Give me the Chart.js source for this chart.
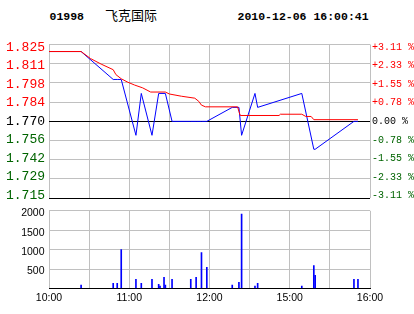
<!DOCTYPE html>
<html><head><meta charset="utf-8">
<script src="https://cdn.jsdelivr.net/npm/chart.js@4.4.0/dist/chart.umd.min.js"></script>
<style>
html,body{margin:0;padding:0;background:#fff;}
#wrap{position:relative;width:414px;height:314px;overflow:hidden;background:#fff;}
.t{position:absolute;white-space:nowrap;color:#000;}
#code,#time{font:bold 11.5px/14px "Liberation Mono",monospace;top:10px;}
#code{left:49.5px}
#time{left:237.5px}
#name{font:13px/16px "Noto Sans CJK SC",sans-serif;left:105px;top:7px;}
#pc{position:absolute;left:0;top:0;}
#vc{position:absolute;left:0;top:200px;}
</style></head><body>
<div id="wrap">
<div class="t" id="code">01998</div>
<div class="t" id="name">飞克国际</div>
<div class="t" id="time">2010-12-06 16:00:41</div>
<canvas id="pc" width="414" height="210"></canvas>
<canvas id="vc" width="414" height="114"></canvas>
</div>
<script>
// ---- data ----
const prevClose = 1.770;
const maxPct = 3.11;
const priceTickLabels = ['1.825','1.811','1.798','1.784','1.770','1.756','1.742','1.729','1.715'];
const pctTickLabels = ['+3.11 %','+2.33 %','+1.55 %','+0.78 %','0.00 %','-0.78 %','-1.55 %','-2.33 %','-3.11 %'];
const timeTickMinutes = [0, 60, 120, 180, 240];
const timeTickLabels = ['10:00','11:00','12:00','15:00','16:00'];

const priceMinutes = [0, 24, 48, 51, 54, 65, 69, 77, 82, 83, 86, 87, 92, 106, 110, 114, 118, 137, 142, 144, 154, 156, 189, 198, 199, 228, 231];
const prices       = [1.82, 1.82, 1.80, 1.80, 1.80, 1.76, 1.79, 1.76, 1.79, 1.79, 1.79, 1.79, 1.77, 1.77, 1.77, 1.77, 1.77, 1.78, 1.78, 1.76, 1.79, 1.78, 1.79, 1.75, 1.75, 1.77, 1.77];

const avgMinutes = [0, 24, 31, 39, 48, 50, 54, 59, 64, 70, 76, 87, 90, 99, 109, 112, 114, 117, 141, 142, 143, 172, 173, 189, 192, 196, 198, 231];
const avgPrices  = [1.820, 1.820, 1.815, 1.811, 1.807, 1.8035, 1.8005, 1.798, 1.796, 1.794, 1.791, 1.791, 1.7896, 1.788, 1.7866, 1.7843, 1.7816, 1.7804, 1.7804, 1.777, 1.7742, 1.7742, 1.7751, 1.7751, 1.7735, 1.7735, 1.7712, 1.7712];

const volMinutes = [24, 48, 51, 54, 65, 69, 77, 82, 83, 86, 87, 92, 106, 110, 114, 118, 137, 142, 144, 154, 156, 189, 198, 199, 228, 231];
const volumes    = [85, 135, 135, 1000, 237, 135, 237, 110, 60, 288, 85, 237, 237, 288, 923, 542, 85, 160, 1914, 60, 135, 60, 593, 339, 237, 237];

// ---- styles ----
const GRID = '#c0c0c0';
const RED = '#ff0000', GREEN = '#006400', BLUE = '#0000ff';

const half = prevClose * maxPct / 100;
const pMin = prevClose - half, pMax = prevClose + half;
const priceTickValues = priceTickLabels.map((_, i) => prevClose + half * (4 - i) / 4);
const stretch = 159 / (159 - 5.6);
const lMin = prevClose - half * stretch, lMax = prevClose + half * stretch;
const gridMinutes = [0, 30, 60, 90, 120, 150, 180, 210, 240];

function tickColor(ctx) {
  const i = ctx.index;
  return i < 4 ? RED : (i === 4 ? '#000' : GREEN);
}
const setTicks = vals => scale => { scale.ticks = vals.map(v => ({ value: v })); };

new Chart(document.getElementById('pc'), {
  type: 'line',
  data: {
    datasets: [
      { data: avgMinutes.map((m, i) => ({ x: m, y: avgPrices[i] })), borderColor: RED, borderWidth: 1, pointRadius: 0, tension: 0, yAxisID: 'y' },
      { data: priceMinutes.map((m, i) => ({ x: m, y: prices[i] })), borderColor: BLUE, borderWidth: 1, pointRadius: 0, tension: 0, yAxisID: 'y' }
    ]
  },
  options: {
    responsive: false, animation: false, events: [],
    layout: { padding: { top: 44.5, bottom: 6.5, left: 0, right: 0 } },
    plugins: { legend: { display: false }, tooltip: { enabled: false } },
    scales: {
      x: {
        type: 'linear', min: 0, max: 240,
        afterBuildTicks: setTicks(gridMinutes),
        ticks: { display: false },
        grid: { color: GRID, drawTicks: false },
        border: { display: false },
        afterFit: s => { s.height = 0; }
      },
      y: {
        position: 'left', min: pMin, max: pMax, weight: 2,
        afterBuildTicks: setTicks(priceTickValues),
        ticks: { display: false },
        grid: {
          drawTicks: false,
          color: c => (Math.abs(c.tick.value - prevClose) < 1e-6 || Math.abs(c.tick.value - pMin) < 1e-6) ? '#000' : GRID
        },
        border: { display: false },
        afterFit: s => { s.width = 0; }
      },
      yl: {
        position: 'left', min: lMin, max: lMax, weight: 1,
        afterBuildTicks: setTicks(priceTickValues),
        ticks: {
          autoSkip: false, padding: 4, color: tickColor,
          font: { family: 'Liberation Mono', size: 13 },
          callback: (v, i) => priceTickLabels[i]
        },
        grid: { display: false, drawTicks: false },
        border: { display: false },
        afterFit: s => { s.width = 49; }
      },
      y2: {
        position: 'right', min: lMin, max: lMax,
        afterBuildTicks: setTicks(priceTickValues),
        ticks: {
          autoSkip: false, padding: 2, color: tickColor,
          font: { family: 'Liberation Mono', size: 10 },
          callback: (v, i) => pctTickLabels[i]
        },
        grid: { display: false, drawTicks: false },
        border: { display: false },
        afterFit: s => { s.width = 44; }
      }
    }
  }
});

new Chart(document.getElementById('vc'), {
  type: 'bar',
  data: {
    datasets: [
      { data: volMinutes.map((m, i) => ({ x: m, y: volumes[i] })), backgroundColor: BLUE, borderWidth: 0, barThickness: 1 }
    ]
  },
  options: {
    responsive: false, animation: false, events: [],
    layout: { padding: { top: 9.5, bottom: 0, left: 0, right: 44 } },
    plugins: { legend: { display: false }, tooltip: { enabled: false } },
    scales: {
      x: {
        type: 'linear', min: 0, max: 240, offset: false,
        afterBuildTicks: setTicks(gridMinutes),
        ticks: {
          autoSkip: false, maxRotation: 0, padding: 3, color: '#000',
          font: { family: 'Liberation Sans', size: 10.5 },
          callback: v => { const k = timeTickMinutes.indexOf(v); return k >= 0 ? timeTickLabels[k] : ''; }
        },
        grid: { color: GRID, drawTicks: false, offset: false },
        border: { color: '#000' },
        afterFit: s => { s.height = 25.5; }
      },
      y: {
        min: 0, max: 2000,
        ticks: {
          stepSize: 500, padding: 4.5, labelOffset: 2.5, color: '#000',
          font: { family: 'Liberation Sans', size: 10.5 },
          callback: v => v === 0 ? '' : String(v)
        },
        grid: { drawTicks: false, color: c => c.tick.value === 0 ? '#000' : GRID },
        border: { display: false },
        afterFit: s => { s.width = 49; }
      }
    }
  }
});
</script>
</body></html>
